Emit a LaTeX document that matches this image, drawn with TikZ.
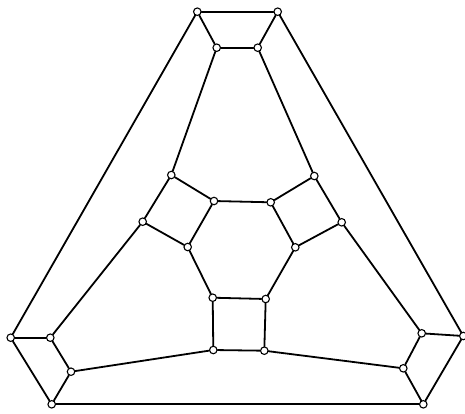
\documentclass[tikz,border=0pt]{standalone}
\begin{document}
\begin{tikzpicture}[x=1pt,y=-1pt,
  vtx/.style={circle,draw=black,fill=white,line width=1.1pt,inner sep=0pt,minimum size=7.5pt},
  edge/.style={line width=1.8pt,line cap=round}]
\useasboundingbox (0,0) rectangle (465,413);
% vertices
\node[vtx] (T1) at (197.3,11.7) {};
\node[vtx] (T2) at (277.7,11.7) {};
\node[vtx] (I1) at (216.7,47.7) {};
\node[vtx] (I2) at (257.7,47.7) {};
\node[vtx] (LS1) at (171.3,175) {};
\node[vtx] (LS2) at (142.7,221.7) {};
\node[vtx] (LS3) at (187.7,247) {};
\node[vtx] (H1) at (214,201) {};
\node[vtx] (H2) at (270.7,202.3) {};
\node[vtx] (RS1) at (314.3,176) {};
\node[vtx] (RS2) at (341.7,222.3) {};
\node[vtx] (RS3) at (295.3,247.3) {};
\node[vtx] (H4) at (265.7,299) {};
\node[vtx] (H5) at (212.7,297.7) {};
\node[vtx] (BS1) at (213.3,350) {};
\node[vtx] (BS2) at (264.3,350.7) {};
\node[vtx] (L1) at (10.7,337.7) {};
\node[vtx] (L2) at (50.3,337.7) {};
\node[vtx] (L3) at (71,371.7) {};
\node[vtx] (B1) at (51.7,404.3) {};
\node[vtx] (R1) at (463.3,336) {};
\node[vtx] (R2) at (421.7,333.3) {};
\node[vtx] (R3) at (403.3,368.3) {};
\node[vtx] (B2) at (423.3,404.3) {};
% edges
\draw[edge] (T1) -- (T2);
\draw[edge] (T1) -- (L1);
\draw[edge] (T2) -- (R1);
\draw[edge] (L1) -- (B1);
\draw[edge] (R1) -- (B2);
\draw[edge] (B1) -- (B2);
\draw[edge] (T1) -- (I1);
\draw[edge] (T2) -- (I2);
\draw[edge] (I1) -- (I2);
\draw[edge] (I1) -- (LS1);
\draw[edge] (I2) -- (RS1);
\draw[edge] (L1) -- (L2);
\draw[edge] (L2) -- (L3);
\draw[edge] (L3) -- (B1);
\draw[edge] (R1) -- (R2);
\draw[edge] (R2) -- (R3);
\draw[edge] (R3) -- (B2);
\draw[edge] (L2) -- (LS2);
\draw[edge] (R2) -- (RS2);
\draw[edge] (L3) -- (BS1);
\draw[edge] (R3) -- (BS2);
\draw[edge] (LS1) -- (LS2);
\draw[edge] (LS2) -- (LS3);
\draw[edge] (LS3) -- (H1);
\draw[edge] (H1) -- (LS1);
\draw[edge] (RS1) -- (RS2);
\draw[edge] (RS2) -- (RS3);
\draw[edge] (RS3) -- (H2);
\draw[edge] (H2) -- (RS1);
\draw[edge] (H1) -- (H2);
\draw[edge] (RS3) -- (H4);
\draw[edge] (H4) -- (H5);
\draw[edge] (H5) -- (LS3);
\draw[edge] (H5) -- (BS1);
\draw[edge] (H4) -- (BS2);
\draw[edge] (BS1) -- (BS2);
\end{tikzpicture}
\end{document}
